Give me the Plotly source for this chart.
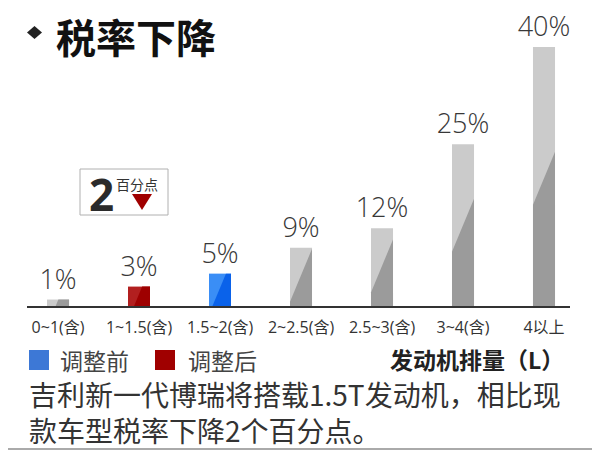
import plotly.graph_objects as go

# engine displacement brackets and purchase tax rate (%)
categories = ["0~1(含)", "1~1.5(含)", "1.5~2(含)", "2~2.5(含)", "2.5~3(含)", "3~4(含)", "4以上"]
rates = [1, 3, 5, 9, 12, 25, 40]
groups = ["other", "after", "before", "other", "other", "other", "other"]

legend_labels = ["调整前", "调整后"]
title_text = "税率下降"
axis_title = "发动机排量（L）"
note_lines = ["吉利新一代博瑞将搭载1.5T发动机，相比现", "款车型税率下降2个百分点。"]
drop_points = "2"
drop_unit = "百分点"

# the page body adds an 8px margin, so the figure is drawn 8px in
OFF = 8
W, H = 600 - OFF, 450 - OFF
light = {"other": "#cbcbcb", "after": "#b21f1f", "before": "#3a8ef6"}
dark = {"other": "#9b9b9b", "after": "#9e0000", "before": "#0a62ea"}
bar_w = 0.272


def px(x):
    return (x - OFF) / W


def py(y):
    return 1 - (y - OFF) / H


def clip_below(pts, f):
    # keep the part of the polygon under the line y = f(x)
    out = []
    for i in range(len(pts)):
        p, q = pts[i], pts[(i + 1) % len(pts)]
        gp, gq = p[1] - f(p[0]), q[1] - f(q[0])
        if gp <= 0:
            out.append(p)
        if (gp <= 0) != (gq <= 0):
            t = gp / (gp - gq)
            out.append((p[0] + t * (q[0] - p[0]), p[1] + t * (q[1] - p[1])))
    return out


fig = go.Figure()

xs = list(range(len(categories)))
fig.add_trace(go.Bar(
    x=xs, y=rates, width=bar_w,
    marker=dict(color=[light[g] for g in groups], line=dict(width=0)),
    texttemplate="%{y}%", textposition="outside", cliponaxis=False, constraintext="none",
    textfont=dict(family="Open Sans", size=27, color="#383838", weight=300),
    hoverinfo="skip", showlegend=False,
))

# darker slanted lower-right part of every bar
for i, v in enumerate(rates):
    x0, x1 = i - bar_w / 2, i + bar_w / 2
    y_left = 0.484 * v - 3.71
    f = lambda x, x0=x0, y_left=y_left: y_left + 30.1 * (x - x0)
    poly = clip_below([(x0, 0), (x1, 0), (x1, v), (x0, v)], f)
    if poly:
        fig.add_trace(go.Scatter(
            x=[p[0] for p in poly] + [poly[0][0]],
            y=[p[1] for p in poly] + [poly[0][1]],
            mode="lines", fill="toself", fillcolor=dark[groups[i]],
            line=dict(width=0), hoverinfo="skip", showlegend=False,
        ))

shapes = [
    # outer frame (right and bottom edges)
    dict(type="line", xref="paper", yref="paper", x0=px(598), x1=px(598), y0=py(OFF), y1=py(449),
         line=dict(color="#aaaaaa", width=2)),
    dict(type="line", xref="paper", yref="paper", x0=0, x1=px(598), y0=py(449), y1=py(449),
         line=dict(color="#aaaaaa", width=2)),
    # title diamond
    dict(type="path", xref="paper", yref="paper",
         path=f"M {px(27)} {py(32.5)} L {px(34.5)} {py(26)} L {px(42)} {py(32.5)} L {px(34.5)} {py(39)} Z",
         fillcolor="#222222", line=dict(width=0)),
    # "2 百分点" box
    dict(type="rect", xref="paper", yref="paper", x0=px(80), x1=px(168), y0=py(215), y1=py(169),
         line=dict(color="#b0b0b0", width=1), fillcolor="white"),
    dict(type="path", xref="paper", yref="paper",
         path=f"M {px(132)} {py(194)} L {px(152)} {py(194)} L {px(142)} {py(210)} Z",
         fillcolor="#a00000", line=dict(width=0)),
    # legend squares
    dict(type="rect", xref="paper", yref="paper", x0=px(29), x1=px(49), y0=py(370), y1=py(350),
         fillcolor="#3d78d6", line=dict(width=0)),
    dict(type="rect", xref="paper", yref="paper", x0=px(155), x1=px(175), y0=py(370), y1=py(350),
         fillcolor="#a00000", line=dict(width=0)),
]

cjk = "Noto Sans CJK SC"
annotations = [
    dict(x=px(54), y=py(35.5), text=f"<b>{title_text}</b>", xanchor="left", yanchor="middle",
         font=dict(family=cjk, size=40, color="#111111")),
    dict(x=px(101), y=py(194), text=f"<b>{drop_points}</b>", xanchor="center", yanchor="middle",
         font=dict(family="Open Sans", size=44, color="#2b2b2b")),
    dict(x=px(137), y=py(184), text=drop_unit, xanchor="center", yanchor="middle",
         font=dict(family=cjk, size=14, color="#333333")),
    dict(x=px(58), y=py(360), text=legend_labels[0], xanchor="left", yanchor="middle",
         font=dict(family=cjk, size=23, color="#444444")),
    dict(x=px(186), y=py(360), text=legend_labels[1], xanchor="left", yanchor="middle",
         font=dict(family=cjk, size=23, color="#444444")),
    dict(x=px(566), y=py(359), text=f"<b>{axis_title}</b>", xanchor="right", yanchor="middle",
         font=dict(family=cjk, size=23, color="#222222")),
    dict(x=px(27), y=py(412), text="<br>".join(note_lines), xanchor="left", yanchor="middle",
         align="left", font=dict(family=cjk, size=28, color="#333333")),
]
for a in annotations:
    a.update(xref="paper", yref="paper", showarrow=False)

fig.update_layout(
    width=W, height=H,
    margin=dict(l=0, r=0, t=0, b=0),
    paper_bgcolor="white", plot_bgcolor="white",
    shapes=shapes, annotations=annotations,
    xaxis=dict(domain=[px(27), px(570)], range=[-0.383, 6.321],
               tickvals=xs, ticktext=categories, ticks="", ticklabelstandoff=6,
               showline=True, linecolor="#333333", linewidth=1.5,
               showgrid=False, zeroline=False, fixedrange=True,
               tickfont=dict(family="Open Sans, Noto Sans CJK SC", size=16, color="#333333")),
    yaxis=dict(domain=[py(306), py(20)], range=[0, 44.17], visible=False, fixedrange=True),
)

fig.write_html("out.html")
